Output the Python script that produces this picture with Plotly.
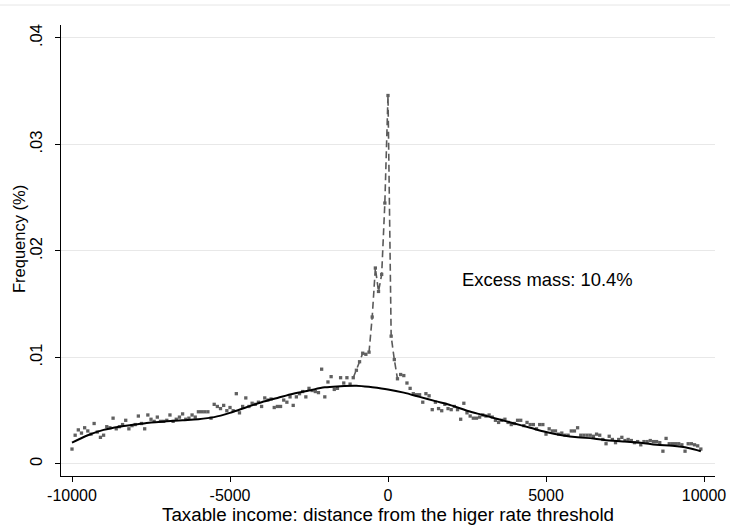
import plotly.graph_objects as go

# Bin positions (distance from threshold) and observed frequencies
bins = list(range(-10000, 10000, 100))
freq = [
    0.0014, 0.0027, 0.0032, 0.0029, 0.0034, 0.0031, 0.0028, 0.0038, 0.0030, 0.0025,
    0.0027, 0.0035, 0.0034, 0.0043, 0.0033, 0.0035, 0.0037, 0.0041, 0.0033, 0.0036,
    0.0037, 0.0045, 0.0038, 0.0033, 0.0046, 0.0042, 0.0040, 0.0044, 0.0040, 0.0040,
    0.0041, 0.0046, 0.0040, 0.0042, 0.0044, 0.0047, 0.0042, 0.0043, 0.0046, 0.0044,
    0.0049, 0.0049, 0.0049, 0.0049, 0.0043, 0.0056, 0.0054, 0.0052, 0.0055, 0.0050,
    0.0053, 0.0050, 0.0066, 0.0048, 0.0054, 0.0062, 0.0054, 0.0057, 0.0056, 0.0058,
    0.0054, 0.0062, 0.0060, 0.0061, 0.0053, 0.0054, 0.0054, 0.0060, 0.0058, 0.0063,
    0.0055, 0.0063, 0.0066, 0.0068, 0.0063, 0.0071, 0.0069, 0.0068, 0.0067, 0.0089,
    0.0063, 0.0077, 0.0082, 0.0070, 0.0071, 0.0081, 0.0076, 0.0081, 0.0075, 0.0081,
    0.0088, 0.0096, 0.0104, 0.0103, 0.0105, 0.0138, 0.0184, 0.0162, 0.0178, 0.0245,
    0.0346, 0.0120, 0.0098, 0.0080, 0.0084, 0.0083, 0.0076, 0.0071, 0.0066, 0.0065,
    0.0065, 0.0058, 0.0066, 0.0064, 0.0051, 0.0058, 0.0052, 0.0050, 0.0056, 0.0052,
    0.0051, 0.0054, 0.0051, 0.0042, 0.0057, 0.0048, 0.0045, 0.0043, 0.0043, 0.0044,
    0.0046, 0.0045, 0.0046, 0.0044, 0.0041, 0.0039, 0.0041, 0.0042, 0.0039, 0.0037,
    0.0038, 0.0041, 0.0041, 0.0036, 0.0039, 0.0037, 0.0037, 0.0033, 0.0037, 0.0037,
    0.0028, 0.0033, 0.0031, 0.0031, 0.0028, 0.0029, 0.0027, 0.0027, 0.0031, 0.0031,
    0.0034, 0.0027, 0.0027, 0.0027, 0.0027, 0.0026, 0.0028, 0.0027, 0.0023, 0.0019,
    0.0026, 0.0023, 0.0020, 0.0023, 0.0025, 0.0022, 0.0023, 0.0022, 0.0020, 0.0021,
    0.0018, 0.0021, 0.0021, 0.0022, 0.0021, 0.0021, 0.0020, 0.0012, 0.0024, 0.0019,
    0.0019, 0.0019, 0.0019, 0.0018, 0.0012, 0.0019, 0.0019, 0.0018, 0.0017, 0.0014,
]

# Counterfactual (smooth fitted) density
cf_x = [-10000, -9500, -9000, -8500, -8000, -7500, -7000, -6500, -6000, -5500,
        -5000, -4500, -4000, -3500, -3000, -2500, -2000, -1500, -1000, -500,
        0, 500, 1000, 1500, 2000, 2500, 3000, 3500, 4000, 4500,
        5000, 5500, 6000, 6500, 7000, 7500, 8000, 8500, 9000, 9500, 9900]
cf_y = [0.0020, 0.0027, 0.0032, 0.0035, 0.0037, 0.0039, 0.0040, 0.0041, 0.0042, 0.0044,
        0.0048, 0.0053, 0.0058, 0.0062, 0.0066, 0.0069, 0.0072, 0.0073, 0.00735, 0.0072,
        0.0070, 0.0067, 0.0063, 0.0059, 0.0055, 0.0050, 0.0046, 0.0042, 0.0038, 0.0034,
        0.0030, 0.0027, 0.0025, 0.0024, 0.0022, 0.0021, 0.0020, 0.0018, 0.0017, 0.0015, 0.0012]

# Excluded (bunching) window connected with a dashed line
win_lo, win_hi = -1100, 300

x_ticks = [-10000, -5000, 0, 5000, 10000]
x_ticklabels = ["-10000", "-5000", "0", "5000", "10000"]
y_ticks = [0, 0.01, 0.02, 0.03, 0.04]
y_ticklabels = ["0", ".01", ".02", ".03", ".04"]

annot_text = "Excess mass: 10.4%"
x_title = "Taxable income: distance from the higer rate threshold"
y_title = "Frequency (%)"

FONT = "Arial, Liberation Sans, sans-serif"

win_x = [b for b in bins if win_lo <= b <= win_hi]
win_y = [f for b, f in zip(bins, freq) if win_lo <= b <= win_hi]

fig = go.Figure()
fig.add_trace(go.Scatter(
    x=win_x, y=win_y, mode="lines",
    line=dict(color="#5a5a5a", width=1.6, dash="7px,4px"),
    hoverinfo="skip", showlegend=False))
fig.add_trace(go.Scatter(
    x=bins, y=freq, mode="markers",
    marker=dict(symbol="square", size=3.3, color="#606060", line=dict(width=0)),
    showlegend=False))
fig.add_trace(go.Scatter(
    x=cf_x, y=cf_y, mode="lines", line_shape="spline",
    line=dict(color="black", width=2),
    showlegend=False))

fig.add_annotation(x=2280, y=0.0173, text=annot_text, showarrow=False,
                   xanchor="left", yanchor="middle",
                   font=dict(family=FONT, size=18.4, color="black"))

# Axis titles placed in paper coordinates (plot area: x 61..715, y 25..476 px)
fig.add_annotation(xref="paper", yref="paper", x=(388 - 61) / 654, y=-(514 - 476) / 451,
                   text=x_title, showarrow=False, xanchor="center", yanchor="middle",
                   borderpad=0,
                   font=dict(family=FONT, size=18.8, color="black"))
fig.add_annotation(xref="paper", yref="paper", x=-(61 - 19) / 654, y=(476 - 239) / 451,
                   text=y_title, showarrow=False, textangle=-90,
                   xanchor="center", yanchor="middle",
                   font=dict(family=FONT, size=16.5, color="black"))

fig.update_layout(
    width=730, height=526,
    margin=dict(l=61, r=15, t=25, b=50),
    paper_bgcolor="white", plot_bgcolor="white",
    font=dict(family=FONT, size=16, color="black"),
    shapes=[dict(type="line", xref="paper", yref="paper",
                 x0=-61/654, x1=669/654, y0=(476-5)/451, y1=(476-5)/451,
                 line=dict(color="#e6e6e6", width=1))],
)
fig.update_xaxes(
    range=[-10348, 10348], tickvals=x_ticks, ticktext=x_ticklabels,
    ticks="outside", ticklen=5, tickcolor="black",
    showline=True, linecolor="black", linewidth=1,
    showgrid=False, zeroline=False, automargin=False,
    tickfont=dict(size=16),
)
fig.update_yaxes(
    range=[-0.00113, 0.04122], tickvals=y_ticks, ticktext=y_ticklabels,
    tickangle=-90,
    ticks="outside", ticklen=5, tickcolor="black",
    showline=True, linecolor="black", linewidth=1,
    showgrid=True, gridcolor="#e8e8e8", gridwidth=1,
    zeroline=False, automargin=False,
    tickfont=dict(size=16.5),
    ticklabelstandoff=6,
)

fig.write_html("out.html")
